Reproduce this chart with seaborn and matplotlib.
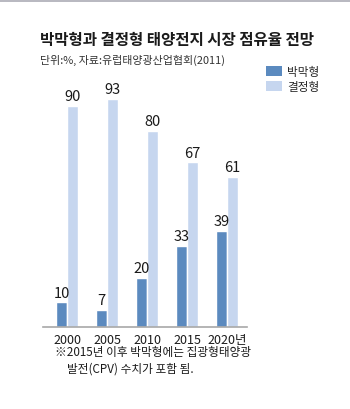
import matplotlib
matplotlib.use("Agg")
import matplotlib.pyplot as plt
from matplotlib.patches import Patch, Rectangle
import seaborn as sns
import pandas as pd

years = ["2000", "2005", "2010", "2015", "2020년"]
thin_film = [10, 7, 20, 33, 39]
crystalline = [90, 93, 80, 67, 61]
series_names = ["박막형", "결정형"]
colors = ["#5b8abf", "#c6d6ef"]

title = "박막형과 결정형 태양전지 시장 점유율 전망"
subtitle = "단위:%, 자료:유럽태양광산업협회(2011)"
note1 = "※2015년 이후 박막형에는 집광형태양광"
note2 = "발전(CPV) 수치가 포함 됨."

df = pd.DataFrame({
    "year": years * 2,
    "value": thin_film + crystalline,
    "type": [series_names[0]] * len(years) + [series_names[1]] * len(years),
})

sns.set_theme(style="white")
KR = ["Noto Sans CJK KR", "DejaVu Sans"]
NUM = ["Liberation Sans Narrow", "Noto Sans CJK KR", "DejaVu Sans"]
plt.rcParams["font.family"] = KR

W, H = 350, 410
fig = plt.figure(figsize=(W / 100, H / 100), dpi=100)
fig.patch.set_facecolor("white")

# top grey band
fig.add_artist(Rectangle((0, 1 - 2.5 / H), 1, 2.5 / H, transform=fig.transFigure,
                         facecolor="#b9b9c1", edgecolor="none"))

x0, x1 = 43, 247
base = 328
scale = 2.456
ymax = 95
ax = fig.add_axes([x0 / W, (H - base) / H, (x1 - x0) / W, ymax * scale / H])

sns.barplot(data=df, x="year", y="value", hue="type", order=years,
            hue_order=series_names, palette=colors, width=0.55,
            saturation=1, legend=False, ax=ax, errorbar=None)

ax.set_xlim(-0.6, 4.5)
ax.set_ylim(0, ymax)
for c in ax.containers:
    ax.bar_label(c, labels=[f"{int(v)}" for v in c.datavalues], padding=2,
                 fontsize=10.5, color="#1a1a1a", family=NUM)

for s in ["top", "right", "left"]:
    ax.spines[s].set_visible(False)
ax.spines["bottom"].set_color("#a8a8a8")
ax.spines["bottom"].set_linewidth(1.2)
ax.set_yticks([])
ax.set_xlabel("")
ax.set_ylabel("")
ax.tick_params(axis="x", length=0, pad=4)
for lab in ax.get_xticklabels():
    lab.set_family(NUM)
    lab.set_fontsize(9)
    lab.set_color("#1a1a1a")

fig.text(40 / W, 1 - 40 / H, title, fontsize=11.2, fontweight="bold",
         color="#1a1a1a", va="center", ha="left", family=KR)
fig.text(40 / W, 1 - 60 / H, subtitle, fontsize=7.9, color="#333333",
         va="center", ha="left", family=KR)

handles = [Patch(facecolor=col, edgecolor="none") for col in colors]
fig.legend(handles, series_names, loc="upper left",
           bbox_to_anchor=(258 / W, 1 - 58 / H), frameon=False,
           prop={"family": "Noto Sans CJK KR", "size": 8.4},
           handlelength=1.4, handleheight=0.9, handletextpad=0.4,
           labelspacing=0.15, borderpad=0.2)

fig.text(55 / W, 1 - 353 / H, note1, fontsize=8.4, color="#1a1a1a",
         va="center", ha="left", family=KR)
fig.text(67 / W, 1 - 369 / H, note2, fontsize=8.4, color="#1a1a1a",
         va="center", ha="left", family=KR)

fig.savefig("out.png", dpi=100, facecolor="white")
